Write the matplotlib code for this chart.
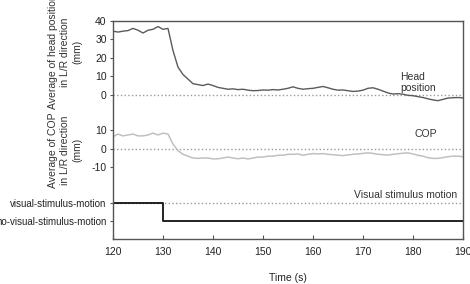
import matplotlib.pyplot as plt
import numpy as np

plt.rcParams["font.family"] = ["Liberation Sans", "DejaVu Sans"]
plt.rcParams["font.size"] = 7.5

# time axis (s), one sample per second
time = np.arange(120, 191)

# head position in L/R direction (mm)
head = [34.5, 34, 34.5, 34.8, 36, 35, 33.5, 35, 35.5, 37,
        35.5, 36, 24, 15, 11, 8.5, 6, 5.5, 5, 5.8,
        5, 4, 3.5, 3, 3.2, 2.8, 3, 2.5, 2.2, 2.3,
        2.6, 2.5, 2.8, 2.6, 3, 3.5, 4.3, 3.5, 3, 3.3,
        3.5, 4, 4.5, 3.8, 3, 2.5, 2.6, 2.2, 1.8, 2,
        2.5, 3.5, 3.8, 3, 2, 1, 0.4, 0.6, 0.3, -0.3,
        -0.5, -1, -1.5, -2.2, -2.8, -3.2, -2.5, -1.8, -1.6, -1.5,
        -1.7]

# COP in L/R direction (mm)
cop = [6.5, 8, 7, 7.5, 8, 7, 7, 7.5, 8.5, 7.5,
       8.5, 8, 2.5, -1, -3, -4, -5, -5.2, -5, -5,
       -5.5, -5.4, -5, -4.5, -5, -5.4, -5, -5.5, -5, -4.5,
       -4.5, -4, -4, -3.5, -3.5, -3, -3, -2.8, -3.5, -3,
       -2.6, -2.8, -2.6, -3, -3.2, -3.5, -3.7, -3.3, -3, -2.8,
       -2.5, -2.2, -2.5, -3, -3.2, -3.4, -3, -2.7, -2.4, -2.2,
       -2.8, -3.5, -4, -4.8, -5.2, -5.2, -4.8, -4.3, -4, -4,
       -4.3]

# visual stimulus on (1) / off (0)
stim_time = [120, 130, 190]
stim_state = [1, 0, 0]

head_ticks = [40, 30, 20, 10, 0]
cop_ticks = [10, 0, -10]
stim_labels = ["visual-stimulus-motion", "no-visual-stimulus-motion"]

# vertical offsets for stacking the three panels on one axis
cop_offset = -29.3
stim_on_level = -58.6
stim_off_level = -68.4

fig = plt.figure(figsize=(4.7, 2.84), dpi=100)
ax = fig.add_axes([0.2404, 0.158, 0.7446, 0.768])

grey_dot = dict(color="#9a9a9a", linestyle=":", linewidth=1.0)
ax.axhline(0, **grey_dot)
ax.axhline(cop_offset, **grey_dot)
ax.axhline(stim_on_level, **grey_dot)

ax.plot(time, head, color="#5a5a5a", linewidth=1.0)
ax.plot(time, np.array(cop) + cop_offset, color="#c0c0c0", linewidth=1.1)

levels = [stim_on_level if s else stim_off_level for s in stim_state]
ax.plot(stim_time, levels, drawstyle="steps-post", color="#111111", linewidth=1.3)

ax.set_xlim(120, 190)
ax.set_ylim(-78.3, 40)
ax.set_xticks(range(120, 191, 10))

yt = head_ticks + [c + cop_offset for c in cop_ticks] + [stim_on_level, stim_off_level]
ylab = [str(v) for v in head_ticks] + [str(v) for v in cop_ticks] + stim_labels
ax.set_yticks(yt)
ax.set_yticklabels(ylab)
for lab in ax.get_yticklabels()[-2:]:
    lab.set_fontsize(7)

ax.tick_params(axis="y", direction="out", length=2.5, colors="#555555", labelcolor="#222222", pad=2)
ax.tick_params(axis="x", direction="in", length=3, colors="#555555", labelcolor="#222222", pad=6)
for sp in ax.spines.values():
    sp.set_color("#555555")
    sp.set_linewidth(1.0)

ax.set_xlabel("Time (s)", color="#222222", labelpad=11)

ax.text(177.4, 6.8, "Head\nposition", ha="left", va="center", color="#333333",
        linespacing=1.1)
ax.text(182.6, -21.3, "COP", ha="center", va="center", color="#333333")
ax.text(188.8, -54.6, "Visual stimulus motion", ha="right", va="center", color="#333333")

fig.text(65 / 470, 1 - 52 / 284, "Average of head position\nin L/R direction\n(mm)",
         rotation=90, ha="center", va="center", multialignment="center",
         color="#333333", linespacing=1.25)
fig.text(65 / 470, 1 - 150 / 284, "Average of COP\nin L/R direction\n(mm)",
         rotation=90, ha="center", va="center", multialignment="center",
         color="#333333", linespacing=1.25)

fig.savefig("out.png", dpi=100)
